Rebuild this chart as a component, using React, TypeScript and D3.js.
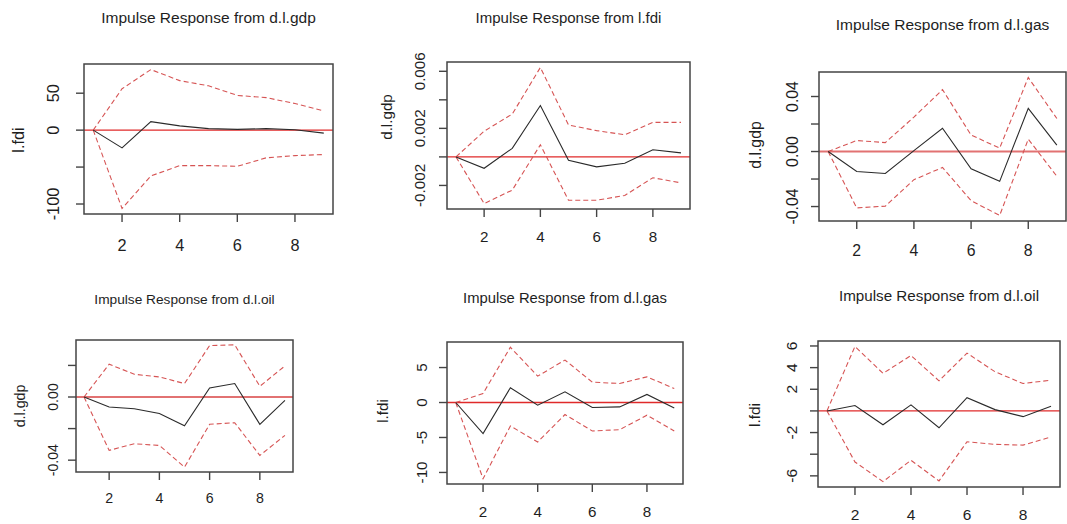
import React, { useEffect, useRef } from "react";
import * as d3 from "d3";

// forecast horizon and axis ticks
const horizon = [1, 2, 3, 4, 5, 6, 7, 8, 9];
const xTicks = [2, 4, 6, 8];

// d.l.gdp -> l.fdi
const gdpFdiIrf = [0, -24, 11.5, 5.8, 2, 1, 2, 0.5, -4];
const gdpFdiUpper = [0, 56, 82, 67, 60, 47, 44, 36, 26];
const gdpFdiLower = [0, -106, -62, -48, -48, -49, -37.5, -34.5, -33];
const gdpFdiTicks = [50, 0, -50, -100];
const gdpFdiLabels = ["50", "0", "", "-100"];

// l.fdi -> d.l.gdp
const fdiGdpIrf = [0, -0.0008, 0.0006, 0.0036, -0.00023, -0.0007, -0.00045, 0.0005, 0.00028];
const fdiGdpUpper = [0, 0.0018, 0.003, 0.00627, 0.00224, 0.00184, 0.00155, 0.00242, 0.00242];
const fdiGdpLower = [0, -0.00327, -0.00233, 0.00085, -0.00304, -0.00304, -0.0027, -0.00146, -0.00182];
const fdiGdpTicks = [0.006, 0.004, 0.002, 0, -0.002];
const fdiGdpLabels = ["0.006", "", "0.002", "", "-0.002"];

// d.l.gas -> d.l.gdp
const gasGdpIrf = [0, -0.0145, -0.016, 0.0007, 0.0169, -0.0125, -0.0217, 0.0314, 0.0046];
const gasGdpUpper = [0, 0.008, 0.0065, 0.025, 0.045, 0.012, 0.0025, 0.0538, 0.024];
const gasGdpLower = [0, -0.041, -0.0397, -0.0205, -0.0116, -0.0357, -0.0465, 0.009, -0.018];
const gasGdpTicks = [0.04, 0.02, 0, -0.02, -0.04];
const gasGdpLabels = ["0.04", "", "0.00", "", "-0.04"];

// d.l.oil -> d.l.gdp
const oilGdpIrf = [0, -0.0063, -0.0074, -0.0105, -0.0182, 0.0057, 0.0085, -0.0173, -0.0021];
const oilGdpUpper = [0, 0.0208, 0.0144, 0.0127, 0.0085, 0.0326, 0.033, 0.0068, 0.0197];
const oilGdpLower = [0, -0.0338, -0.0296, -0.0307, -0.0444, -0.0173, -0.0163, -0.037, -0.0243];
const oilGdpTicks = [0.02, 0, -0.02, -0.04];
const oilGdpLabels = ["", "0.00", "", "-0.04"];

// d.l.gas -> l.fdi
const gasFdiIrf = [0, -4.45, 2.1, -0.39, 1.52, -0.72, -0.63, 1.15, -0.77];
const gasFdiUpper = [0, 1.29, 7.9, 3.77, 6.07, 2.91, 2.72, 3.67, 2.0];
const gasFdiLower = [0, -10.9, -3.36, -5.65, -1.72, -4.07, -3.88, -1.82, -4.07];
const gasFdiTicks = [5, 0, -5, -10];
const gasFdiLabels = ["5", "0", "-5", "-10"];

// d.l.oil -> l.fdi
const oilFdiIrf = [0, 0.5, -1.28, 0.56, -1.56, 1.22, 0.12, -0.53, 0.43];
const oilFdiUpper = [0, 5.96, 3.47, 5.12, 2.78, 5.34, 3.62, 2.53, 2.84];
const oilFdiLower = [0, -4.72, -6.53, -4.56, -6.47, -2.85, -3.09, -3.16, -2.41];
const oilFdiTicks = [6, 4, 2, 0, -2, -4, -6];
const oilFdiLabels = ["6", "4", "2", "", "-2", "", "-6"];

const panels = [
  { title: "Impulse Response from d.l.gdp", ylab: "l.fdi", irf: gdpFdiIrf, upper: gdpFdiUpper, lower: gdpFdiLower, ticks: gdpFdiTicks, labels: gdpFdiLabels,
    box: [84, 333, 64, 214], titleY: 18, ylabX: 18, ylabY: 140, ytickX: 53, xtickY: 245, fsTitle: 15.5, fs: 16.3, zeroW: 1.2 },
  { title: "Impulse Response from l.fdi", ylab: "d.l.gdp", irf: fdiGdpIrf, upper: fdiGdpUpper, lower: fdiGdpLower, ticks: fdiGdpTicks, labels: fdiGdpLabels,
    box: [447, 690, 62, 209], titleY: 18, ylabX: 387, ylabY: 117, ytickX: 420, xtickY: 237, fsTitle: 15, fs: 15.2, zeroW: 1.2 },
  { title: "Impulse Response from d.l.gas", ylab: "d.l.gdp", irf: gasGdpIrf, upper: gasGdpUpper, lower: gasGdpLower, ticks: gasGdpTicks, labels: gasGdpLabels,
    box: [819, 1066, 72, 221], titleY: 25, ylabX: 755, ylabY: 145, ytickX: 792, xtickY: 250, fsTitle: 15.5, fs: 15.8, zeroW: 2.2 },
  { title: "Impulse Response from d.l.oil", ylab: "d.l.gdp", irf: oilGdpIrf, upper: oilGdpUpper, lower: oilGdpLower, ticks: oilGdpTicks, labels: oilGdpLabels,
    box: [76, 293, 340, 472], titleY: 299, ylabX: 20, ylabY: 406, ytickX: 53, xtickY: 498, fsTitle: 13.7, fs: 14.2, zeroW: 2 },
  { title: "Impulse Response from d.l.gas", ylab: "l.fdi", irf: gasFdiIrf, upper: gasFdiUpper, lower: gasFdiLower, ticks: gasFdiTicks, labels: gasFdiLabels,
    box: [447, 683, 342, 484], titleY: 298, ylabX: 383, ylabY: 411, ytickX: 422, xtickY: 512, fsTitle: 14.8, fs: 15.2, zeroW: 1.3 },
  { title: "Impulse Response from d.l.oil", ylab: "l.fdi", irf: oilFdiIrf, upper: oilFdiUpper, lower: oilFdiLower, ticks: oilFdiTicks, labels: oilFdiLabels,
    box: [818, 1060, 341, 487], titleY: 296, ylabX: 755, ylabY: 415, ytickX: 792, xtickY: 515, fsTitle: 15.2, fs: 15.5, zeroW: 1.3 },
];

// R style axis extension: 4% on each side
function padded(lo: number, hi: number): [number, number] {
  const p = (hi - lo) * 0.04;
  return [lo - p, hi + p];
}

export default function App() {
  const ref = useRef<SVGSVGElement>(null);

  useEffect(() => {
    const svg = d3.select(ref.current);
    svg.selectAll("*").remove();
    const font = "'Liberation Sans', Arial, sans-serif";
    const ink = "#1e1e1e";

    panels.forEach(p => {
      const [left, right, top, bottom] = p.box;
      const all = [...p.irf, ...p.upper, ...p.lower];
      const x = d3.scaleLinear().domain(padded(1, 9)).range([left, right]);
      const y = d3.scaleLinear().domain(padded(d3.min(all)!, d3.max(all)!)).range([bottom, top]);
      const g = svg.append("g");

      const line = (vals: number[]) =>
        d3.line<number>().x((_, i) => x(horizon[i])).y(v => y(v))(vals);

      // zero line
      g.append("line")
        .attr("x1", left).attr("x2", right)
        .attr("y1", y(0)).attr("y2", y(0))
        .attr("stroke", p.zeroW > 1.5 ? "#e27272" : "#e02a2a")
        .attr("stroke-width", p.zeroW);

      [p.upper, p.lower].forEach(band => {
        g.append("path").attr("d", line(band)!)
          .attr("fill", "none").attr("stroke", "#d65454")
          .attr("stroke-width", 1.1).attr("stroke-dasharray", "5,3");
      });

      g.append("path").attr("d", line(p.irf)!)
        .attr("fill", "none").attr("stroke", "#2a2a2a").attr("stroke-width", 1.1);

      // frame
      g.append("rect")
        .attr("x", left).attr("y", top)
        .attr("width", right - left).attr("height", bottom - top)
        .attr("fill", "none").attr("stroke", "#444").attr("stroke-width", 1.5);

      // x axis
      xTicks.forEach(t => {
        g.append("line")
          .attr("x1", x(t)).attr("x2", x(t))
          .attr("y1", bottom).attr("y2", bottom + 8)
          .attr("stroke", "#444").attr("stroke-width", 1.4);
        g.append("text")
          .attr("x", x(t)).attr("y", p.xtickY).attr("dy", "0.35em")
          .attr("text-anchor", "middle")
          .style("font-family", font).style("font-size", p.fs + "px").attr("fill", ink)
          .text(t);
      });

      // y axis
      p.ticks.forEach((t, i) => {
        g.append("line")
          .attr("x1", left - 8).attr("x2", left)
          .attr("y1", y(t)).attr("y2", y(t))
          .attr("stroke", "#444").attr("stroke-width", 1.4);
        if (p.labels[i]) {
          g.append("text")
            .attr("transform", `translate(${p.ytickX},${y(t)}) rotate(-90)`)
            .attr("dy", "0.35em").attr("text-anchor", "middle")
            .style("font-family", font).style("font-size", p.fs + "px").attr("fill", ink)
            .text(p.labels[i]);
        }
      });

      g.append("text")
        .attr("transform", `translate(${p.ylabX},${p.ylabY}) rotate(-90)`)
        .attr("dy", "0.35em").attr("text-anchor", "middle")
        .style("font-family", font).style("font-size", p.fs + "px").attr("fill", ink)
        .text(p.ylab);

      g.append("text")
        .attr("x", (left + right) / 2).attr("y", p.titleY).attr("dy", "0.35em")
        .attr("text-anchor", "middle")
        .style("font-family", font).style("font-size", p.fsTitle + "px").attr("fill", ink)
        .text(p.title);
    });
  }, []);

  return (
    <svg ref={ref} width={1067} height={524}
      style={{ position: "absolute", left: 0, top: 0, background: "#fff" }} />
  );
}
